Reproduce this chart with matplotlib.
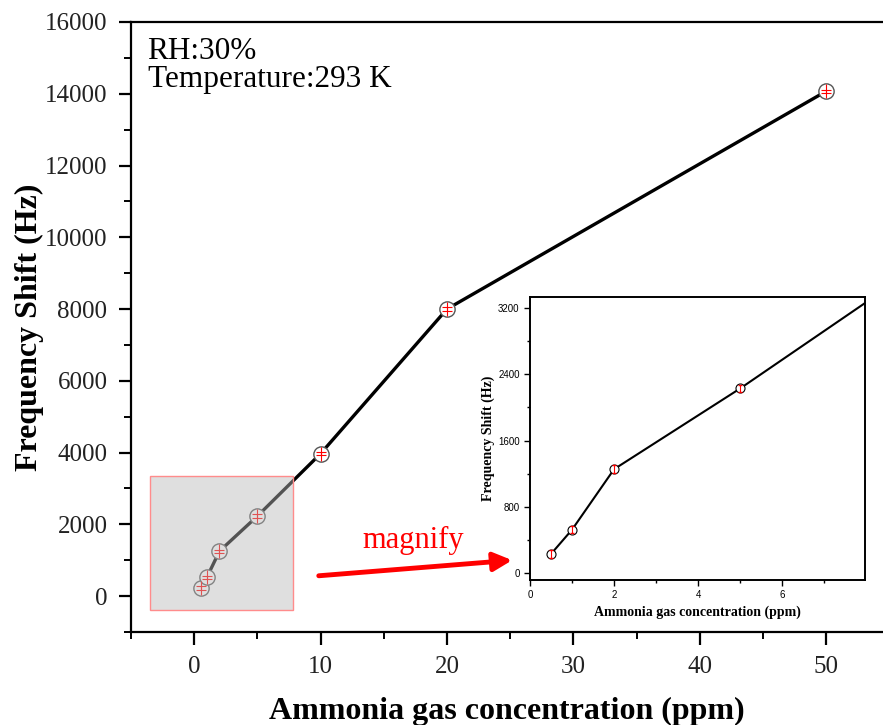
import matplotlib
matplotlib.use("Agg")
import matplotlib.pyplot as plt
from matplotlib.patches import Rectangle, FancyArrowPatch
from matplotlib.ticker import MultipleLocator

conc = [0.5, 1, 2, 5, 10, 20, 50]
shift = [227, 521, 1253, 2230, 3970, 8000, 14070]
err = [45, 45, 45, 45, 45, 45, 45]

plt.rcParams['font.family'] = ['Liberation Serif', 'DejaVu Serif']

fig = plt.figure(figsize=(8.83, 7.25), dpi=100)
ax = fig.add_axes([131/883, 93/725, 1 - 131/883, (632 - 22)/725])

ax.plot(conc, shift, color='black', lw=2.4, zorder=2)
ax.plot(conc, shift, ls='none', marker='o', ms=11, mfc='white', mec='#555555', mew=1.0, zorder=3)
ax.errorbar(conc, shift, yerr=err, fmt='none', ecolor='red', capsize=3.5, elinewidth=0.8, capthick=0.8, zorder=4)
ax.plot(conc, shift, ls='none', marker='|', ms=10, mec='red', mew=0.8, zorder=4)

# shaded box marking the zoomed region
ax.add_patch(Rectangle((-3.5, -390), 11.35, 3750, facecolor=(0.73, 0.73, 0.73, 0.45),
                       edgecolor=(1, 0.55, 0.55), lw=1.0, zorder=5))

ax.set_xlim(-5, 54.5)
ax.set_ylim(-1000, 16000)
ax.xaxis.set_major_locator(MultipleLocator(10))
ax.xaxis.set_minor_locator(MultipleLocator(5))
ax.yaxis.set_major_locator(MultipleLocator(2000))
ax.yaxis.set_minor_locator(MultipleLocator(1000))
ax.spines['right'].set_visible(False)
for s in ['left', 'bottom', 'top']:
    ax.spines[s].set_linewidth(1.6)
ax.tick_params(which='major', direction='out', length=9, width=1.6, labelsize=18, labelcolor='#222222', pad=8)
ax.tick_params(which='minor', direction='out', length=5, width=1.4)
ax.tick_params(axis='x', which='both', top=False)
ax.set_xlabel('Ammonia gas concentration (ppm)', fontsize=23, fontweight='bold', va='center')
ax.xaxis.set_label_coords(0.5, -0.13)
ax.set_ylabel('Frequency Shift (Hz)', fontsize=23, fontweight='bold')
ax.yaxis.set_label_coords(-0.116, 0.50)

ax.text(0.022, 0.975, 'RH:30%\nTemperature:293 K', transform=ax.transAxes, fontsize=22.5,
        va='top', ha='left', linespacing=0.95)

fig.text(413/883, 1 - 540/725, 'magnify', color='red', fontsize=22, ha='center', va='center')
fig.add_artist(FancyArrowPatch((316/883, 1 - 576/725), (515/883, 1 - 560/725),
               transform=fig.transFigure, arrowstyle='-|>', mutation_scale=28, lw=3.5, color='red'))

# inset
ins = fig.add_axes([530/883, 1 - 580/725, (865 - 530)/883, (580 - 297)/725])
ins.plot(conc, shift, color='black', lw=1.5, zorder=2)
ins.plot(conc, shift, ls='none', marker='o', ms=6.5, mfc='white', mec='black', mew=0.8, zorder=3)
ins.errorbar(conc, shift, yerr=err, fmt='none', ecolor='red', capsize=1.5, elinewidth=0.8, zorder=4)
ins.set_xlim(0, 7.97)
ins.set_ylim(-88, 3337)
ins.xaxis.set_major_locator(MultipleLocator(2))
ins.xaxis.set_minor_locator(MultipleLocator(1))
ins.yaxis.set_major_locator(MultipleLocator(800))
ins.yaxis.set_minor_locator(MultipleLocator(400))
for s in ins.spines.values():
    s.set_linewidth(1.4)
ins.tick_params(which='major', direction='out', length=4, width=1.0, labelsize=7)
ins.tick_params(which='minor', direction='out', length=2.5, width=1.0)
for lab in ins.get_xticklabels() + ins.get_yticklabels():
    lab.set_family(['Liberation Sans', 'DejaVu Sans'])
ins.set_xlabel('Ammonia gas concentration (ppm)', fontsize=10, fontweight='bold', labelpad=4)
ins.set_ylabel('Frequency Shift (Hz)', fontsize=10, fontweight='bold', labelpad=2)

fig.savefig('out.png', dpi=100)
